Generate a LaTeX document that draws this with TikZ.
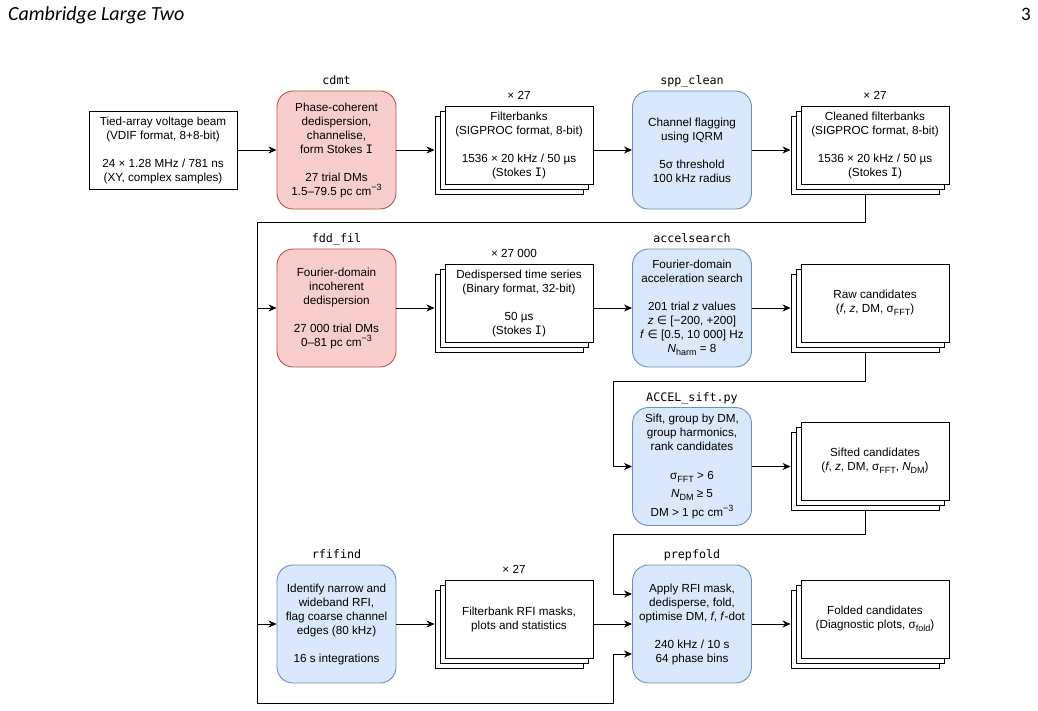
\documentclass[tikz,border=0pt]{standalone}
\usepackage{fontspec}
\setmainfont{Liberation Sans}
\setmonofont{DejaVu Sans Mono}
\newfontfamily\symfont{DejaVu Sans}
\newfontfamily\headfont{Carlito}
\usetikzlibrary{arrows.meta,calc}
\definecolor{redfill}{HTML}{F8CECC}
\definecolor{redline}{HTML}{B85450}
\definecolor{bluefill}{HTML}{DAE8FC}
\definecolor{blueline}{HTML}{6C8EBF}
\newcommand\mysub[1]{\raisebox{-3pt}{\fontsize{9}{9}\selectfont #1}}
\newcommand\mysup[1]{\raisebox{5pt}{\fontsize{9}{9}\selectfont #1}}
\newcommand\stI{{\ttfamily I}}
\newcommand\elem{{\symfont ∈}}
\begin{document}
\begin{tikzpicture}[x=1pt,y=-1pt,
 txt/.style={font=\fontsize{11.7}{14}\selectfont, align=center, inner sep=0pt, text=black},
 plainbox/.style={txt, draw=black, line width=0.9pt, fill=white, minimum width=148pt, minimum height=78pt},
 proc/.style={txt, rounded corners=16pt, line width=0.9pt, minimum width=119pt, minimum height=118pt},
 redproc/.style={proc, draw=redline, fill=redfill},
 blueproc/.style={proc, draw=blueline, fill=bluefill},
 tool/.style={font=\fontsize{11.7}{14}\selectfont\ttfamily, inner sep=0pt, anchor=base},
 count/.style={font=\fontsize{11.7}{14}\selectfont, inner sep=0pt, anchor=base},
 arr/.style={-{Stealth[length=8pt,width=7pt,inset=2.5pt]}, line width=0.9pt, draw=black},
 wire/.style={line width=0.9pt, draw=black}
]
\useasboundingbox (0,0) rectangle (1038,711);

% header
\node[anchor=base west, inner sep=0pt, font=\headfont\itshape\fontsize{20}{20}\selectfont] (head) at (8,21) {Cambridge Large Two};
\node[anchor=base east, inner sep=0pt, font=\headfont\fontsize{19}{19}\selectfont] (pnum) at (1031,21) {3};

% row 1
\node[plainbox] (in) at (163,150) {Tied-array voltage beam\\(VDIF format, 8+8-bit)\\[14pt]24 × 1.28 MHz / 781 ns\\(XY, complex samples)};
\node[redproc] (cdmt) at (336.5,150) {Phase-coherent\\dedispersion,\\channelise,\\form Stokes \stI\\[14pt]27 trial DMs\\1.5–79.5 pc cm\mysup{−3}};
\node[tool] (cdmtL) at ([yshift=6pt]cdmt.north) {cdmt};

\node[plainbox] (fbC) at (509,155) {};
\node[plainbox] (fbB) at (514,150) {};
\node[plainbox] (fb) at (519,145) {Filterbanks\\(SIGPROC format, 8-bit)\\[14pt]1536 × 20 kHz / 50 µs\\(Stokes \stI)};
\node[count] (fbL) at ([yshift=6pt]fb.north) {× 27};

\node[blueproc] (spp) at (692,150) {Channel flagging\\using IQRM\\[14pt]5σ threshold\\100 kHz radius};
\node[tool] (sppL) at ([yshift=6pt]spp.north) {spp\_clean};

\node[plainbox] (cfbC) at (865,155) {};
\node[plainbox] (cfbB) at (870,150) {};
\node[plainbox] (cfb) at (875,145) {Cleaned filterbanks\\(SIGPROC format, 8-bit)\\[14pt]1536 × 20 kHz / 50 µs\\(Stokes \stI)};
\node[count] (cfbL) at ([yshift=6pt]cfb.north) {× 27};

% row 2
\node[redproc] (fdd) at (336.5,308) {Fourier-domain\\incoherent\\dedispersion\\[14pt]27 000 trial DMs\\0–81 pc cm\mysup{−3}};
\node[tool] (fddL) at ([yshift=6pt]fdd.north) {fdd\_fil};

\node[plainbox] (ddC) at (509,313) {};
\node[plainbox] (ddB) at (514,308) {};
\node[plainbox] (dd) at (519,303) {Dedispersed time series\\(Binary format, 32-bit)\\[14pt]50 µs\\(Stokes \stI)};
\node[count] (ddL) at ([yshift=6pt]dd.north -| ddB.north) {× 27 000};

\node[blueproc] (accel) at (692,308) {Fourier-domain\\acceleration search\\[14pt]201 trial \textit{z} values\\\textit{z} \elem{} [−200, +200]\\\textit{f} \elem{} [0.5, 10 000] Hz\\\textit{N}\mysub{harm} = 8};
\node[tool] (accelL) at ([yshift=6pt]accel.north) {accelsearch};

\node[plainbox] (rawC) at (865,313) {};
\node[plainbox] (rawB) at (870,308) {};
\node[plainbox] (raw) at (875,303) {Raw candidates\\(\textit{f}, \textit{z}, DM, σ\mysub{FFT})};

% row 3
\node[blueproc] (sift) at (692,466.5) {Sift, group by DM,\\group harmonics,\\rank candidates\\[15pt]σ\mysub{FFT} > 6\\[4pt]\textit{N}\mysub{DM} ≥ 5\\[4pt]DM > 1 pc cm\mysup{−3}};
\node[tool] (siftL) at ([yshift=6pt]sift.north) {ACCEL\_sift.py};

\node[plainbox] (sfC) at (865,471) {};
\node[plainbox] (sfB) at (870,466) {};
\node[plainbox] (sf) at (875,461) {Sifted candidates\\(\textit{f}, \textit{z}, DM, σ\mysub{FFT}, \textit{N}\mysub{DM})};

% row 4
\node[blueproc] (rfi) at (336.5,624) {Identify narrow and\\wideband RFI,\\flag coarse channel\\edges (80 kHz)\\[14pt]16 s integrations};
\node[tool] (rfiL) at ([yshift=6pt]rfi.north) {rfifind};

\node[plainbox] (mkC) at (509,629) {};
\node[plainbox] (mkB) at (514,624) {};
\node[plainbox] (mk) at (519,619) {Filterbank RFI masks,\\plots and statistics};
\node[count] (mkL) at ([yshift=6pt]mk.north -| mkB.north) {× 27};

\node[blueproc] (pf) at (692,624) {Apply RFI mask,\\dedisperse, fold,\\optimise DM, \textit{f}, \textit{f}-dot\\[14pt]240 kHz / 10 s\\64 phase bins};
\node[tool] (pfL) at ([yshift=6pt]pf.north) {prepfold};

\node[plainbox] (foC) at (865,629) {};
\node[plainbox] (foB) at (870,624) {};
\node[plainbox] (fo) at (875,619) {Folded candidates\\(Diagnostic plots, σ\mysub{fold})};

% bus coordinates
\coordinate (busL) at (257,222);
\coordinate (busB) at (257,703);
\coordinate (busR) at (613,703);
\coordinate (rawbus) at (613,381);
\coordinate (sfbus) at (613,534);

% connectors
\draw[arr] (in.east) -- (cdmt.west);
\draw[arr] (cdmt.east) -- (cdmt.east -| fbC.west);
\draw[arr] (fb.east |- spp.west) -- (spp.west);
\draw[arr] (spp.east) -- (spp.east -| cfbC.west);

\draw[arr] (cfbC.south) |- (busL) |- (fdd.west);
\draw[arr] (cfbC.south) |- (busL) |- (rfi.west);
\draw[arr] (cfbC.south) |- (busL) -- (busB) -- (busR) |- ([yshift=-30pt]pf.west);

\draw[arr] (fdd.east) -- (fdd.east -| ddC.west);
\draw[arr] (dd.east |- accel.west) -- (accel.west);
\draw[arr] (accel.east) -- (accel.east -| rawC.west);

\draw[arr] (rawC.south) |- (rawbus) |- (sift.west);
\draw[arr] (sift.east) -- (sift.east -| sfC.west);
\draw[arr] (sfC.south) |- (sfbus) |- ([yshift=30pt]pf.west);

\draw[arr] (rfi.east) -- (rfi.east -| mkC.west);
\draw[arr] (mk.east |- pf.west) -- (pf.west);
\draw[arr] (pf.east) -- (pf.east -| foC.west);
\end{tikzpicture}
\end{document}
